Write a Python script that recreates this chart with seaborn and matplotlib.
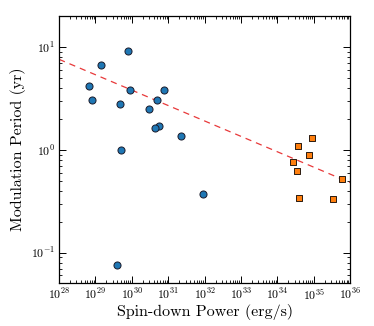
import numpy as np
import pandas as pd
import matplotlib
matplotlib.use("Agg")
import matplotlib.pyplot as plt
import seaborn as sns

# Blue circles: spin-down power (erg/s) and modulation period (yr)
circ_edot = [10**28.82, 10**28.90, 10**29.14, 10**29.89, 10**29.95, 10**29.67, 10**29.70,
             10**30.89, 10**30.69, 10**30.47, 10**30.75, 10**30.64, 10**31.36, 10**31.96, 10**29.59]
circ_period = [4.2, 3.07, 6.7, 9.15, 3.87, 2.79, 1.0,
               3.87, 3.05, 2.52, 1.71, 1.63, 1.38, 0.373, 0.0764]

# Orange squares
sq_edot = [10**34.96, 10**34.58, 10**34.86, 10**34.43, 10**34.54, 10**35.79, 10**34.60, 10**35.54]
sq_period = [1.32, 1.10, 0.89, 0.76, 0.62, 0.52, 0.339, 0.331]

# Power-law fit: log10(P) = fit_a + fit_b * (log10(Edot) - 28)
fit_a = 0.883
fit_b = -0.150
fit_range = [1e28, 1e36]

xticks = [10.0**k for k in range(28, 37)]
yticks = [0.1, 1.0, 10.0]

sns.set_style("ticks")
plt.rcParams.update({
    "font.family": "serif",
    "font.serif": ["cmr10", "DejaVu Serif"],
    "mathtext.fontset": "cm",
    "axes.formatter.use_mathtext": True,
    "axes.unicode_minus": False,
    "text.color": "black",
    "axes.labelcolor": "black",
    "xtick.color": "black",
    "ytick.color": "black",
    "axes.edgecolor": "black",
})

fig = plt.figure(figsize=(3.74, 3.26), dpi=100)
ax = fig.add_axes([0.158, 0.132, 0.778, 0.819])

lx = np.logspace(np.log10(fit_range[0]), np.log10(fit_range[1]), 50)
ly = 10 ** (fit_a + fit_b * (np.log10(lx) - 28))
fit_df = pd.DataFrame({"x": lx, "y": ly})
sns.lineplot(data=fit_df, x="x", y="y", ax=ax, color="#e8393a", lw=0.9,
             linestyle=(0, (5, 4)), zorder=1)

cdf = pd.DataFrame({"x": np.array(circ_edot, dtype=float), "y": circ_period})
sdf = pd.DataFrame({"x": np.array(sq_edot, dtype=float), "y": sq_period})
sns.scatterplot(data=cdf, x="x", y="y", ax=ax, color="#1f77b4", marker="o", s=26,
                edgecolor="#1a1a2a", linewidth=0.7, zorder=3)
sns.scatterplot(data=sdf, x="x", y="y", ax=ax, color="#ff7f0e", marker="s", s=24,
                edgecolor="#2a1a10", linewidth=0.7, zorder=3)

ax.set_xscale("log")
ax.set_yscale("log")
ax.set_xlim(1e28, 1e36)
ax.set_ylim(0.0507, 20.2)
ax.set_xticks(xticks)
ax.set_yticks(yticks)
ax.xaxis.set_minor_locator(matplotlib.ticker.LogLocator(base=10, subs=np.arange(2, 10), numticks=20))
ax.yaxis.set_minor_locator(matplotlib.ticker.LogLocator(base=10, subs=np.arange(2, 10), numticks=20))
ax.xaxis.set_minor_formatter(matplotlib.ticker.NullFormatter())
ax.yaxis.set_minor_formatter(matplotlib.ticker.NullFormatter())
ax.tick_params(which="both", direction="in", top=True, right=True, labelsize=8.5, pad=3)
ax.tick_params(which="major", length=5, width=0.7)
ax.tick_params(which="minor", length=2.5, width=0.6)
for sp in ax.spines.values():
    sp.set_linewidth(0.9)

ax.set_xlabel("Spin-down Power (erg/s)", fontsize=11.5, labelpad=1)
ax.set_ylabel("Modulation Period (yr)", fontsize=11.5, labelpad=3)

fig.savefig("out.png", dpi=100)
